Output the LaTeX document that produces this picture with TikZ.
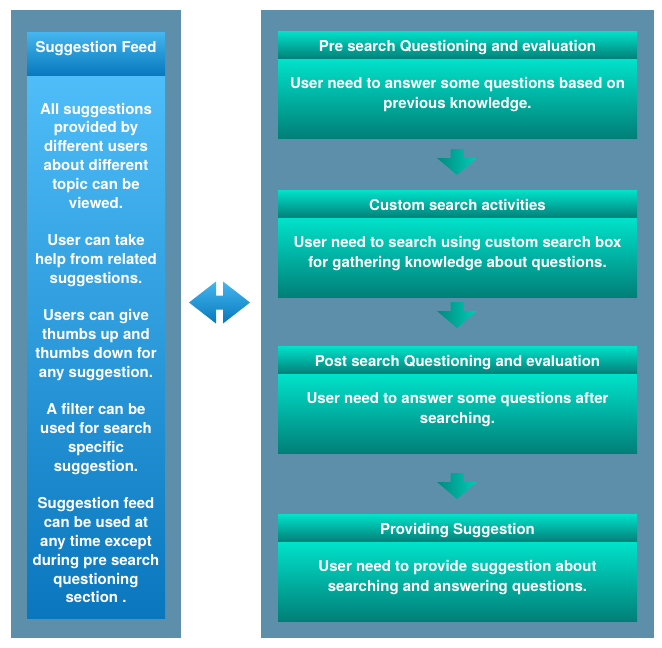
\documentclass[tikz,border=0pt]{standalone}
\usepackage{fontspec}
\setmainfont{TeX Gyre Heros}
\definecolor{panel}{HTML}{5E8FAA}
\definecolor{skytop}{HTML}{4EBDF8}
\definecolor{skybot}{HTML}{0A76BE}
\definecolor{bandtop}{HTML}{46B6F0}
\definecolor{bandbot}{HTML}{0678BC}
\definecolor{tealtop}{HTML}{00E2CA}
\definecolor{tealbot}{HTML}{007F78}
\definecolor{tealdark}{HTML}{008A80}
\definecolor{teallight}{HTML}{00CDB5}
\begin{document}
\begin{tikzpicture}[x=1pt,y=-1pt,
  every node/.style={inner sep=0pt,outer sep=0pt},
  panelbox/.style={fill=panel,draw=none},
  band/.style={top color=bandtop,bottom color=bandbot,minimum width=138pt,minimum height=44pt,
    text=white,font=\fontsize{15}{19}\selectfont\bfseries,text height=4pt,text depth=6.4pt},
  feedbody/.style={top color=skytop,bottom color=skybot,minimum width=138pt,minimum height=542pt},
  feedtext/.style={text=white,align=center,font=\fontsize{15}{18.8}\selectfont\bfseries},
  stephead/.style={top color=tealtop,bottom color=tealbot,minimum width=359pt,minimum height=28pt,
    text=white,font=\fontsize{15}{19}\selectfont\bfseries,text height=13.6pt,text depth=0pt},
  stepbody/.style={top color=tealtop,bottom color=tealbot,minimum width=359pt,minimum height=79pt},
  steptext/.style={text=white,align=center,font=\fontsize{15}{19.5}\selectfont\bfseries},
  downarrow/.style={left color=tealdark,right color=teallight,draw=none},
  linkarrow/.style={top color=bandtop,bottom color=bandbot,draw=none}]
\useasboundingbox (0,0) rectangle (662,648);
\fill[white] (0,0) rectangle (662,648);

% background panels
\path[panelbox] (11,10) rectangle (181,638);
\path[panelbox] (261,10) rectangle (654,638);

% suggestion feed column
\node[band] (feedhead) at (96,54) {Suggestion Feed};
\node[feedbody,anchor=north] (feedbody) at (96,76) {};
\node[feedtext,anchor=north] (feedtext) at (96,103) {%
All suggestions\\ provided by\\ different users\\ about different\\ topic can be\\ viewed.\\[18.8pt]
User can take\\ help from related\\ suggestions.\\[18.8pt]
Users can give\\ thumbs up and\\ thumbs down for\\ any suggestion.\\[18.8pt]
A filter can be\\ used for search\\ specific\\ suggestion.\\[18.8pt]
Suggestion feed\\ can be used at\\ any time except\\ during pre search\\ questioning\\ section .};

% process steps
\node[stephead] (h1) at (457.5,45) {Pre search Questioning and evaluation};
\node[stepbody,anchor=north] (b1) at (h1.south) {};
\node[steptext,anchor=north] (t1) at ([yshift=-18.5pt]b1.north) {User need to answer some questions based on\\ previous knowledge.};

\node[stephead] (h2) at (457.5,204) {Custom search activities};
\node[stepbody,anchor=north] (b2) at (h2.south) {};
\node[steptext,anchor=north] (t2) at ([yshift=-18.5pt]b2.north) {User need to search using custom search box\\ for gathering knowledge about questions.};

\node[stephead] (h3) at (457.5,360) {Post search Questioning and evaluation};
\node[stepbody,anchor=north] (b3) at (h3.south) {};
\node[steptext,anchor=north] (t3) at ([yshift=-18.5pt]b3.north) {User need to answer some questions after\\ searching.};

\node[stephead] (h4) at (457.5,528) {Providing Suggestion};
\node[stepbody,anchor=north] (b4) at (h4.south) {};
\node[steptext,anchor=north] (t4) at ([yshift=-18.5pt]b4.north) {User need to provide suggestion about\\ searching and answering questions.};

% downward arrows between steps
\coordinate (a1) at (457,149);
\coordinate (a2) at (457,302);
\coordinate (a3) at (457,473);
\foreach \a in {a1,a2,a3}{
  \path[downarrow] ([xshift=-6.5pt]\a) -- ([xshift=6.5pt]\a) -- ([xshift=6.5pt,yshift=-9pt]\a)
    -- ([xshift=20pt,yshift=-9pt]\a) -- ([yshift=-26pt]\a) -- ([xshift=-20pt,yshift=-9pt]\a)
    -- ([xshift=-6.5pt,yshift=-9pt]\a) -- cycle;
}

% two-way link between the feed and the steps
\coordinate (lk) at (219.5,302.5);
\path[linkarrow] ([xshift=-30.5pt]lk) -- ([xshift=-3.5pt,yshift=-21pt]lk) -- ([xshift=-3.5pt,yshift=-7pt]lk)
  -- ([xshift=3.5pt,yshift=-7pt]lk) -- ([xshift=3.5pt,yshift=-21pt]lk) -- ([xshift=30.5pt]lk)
  -- ([xshift=3.5pt,yshift=21pt]lk) -- ([xshift=3.5pt,yshift=7pt]lk) -- ([xshift=-3.5pt,yshift=7pt]lk)
  -- ([xshift=-3.5pt,yshift=21pt]lk) -- cycle;
\end{tikzpicture}
\end{document}
